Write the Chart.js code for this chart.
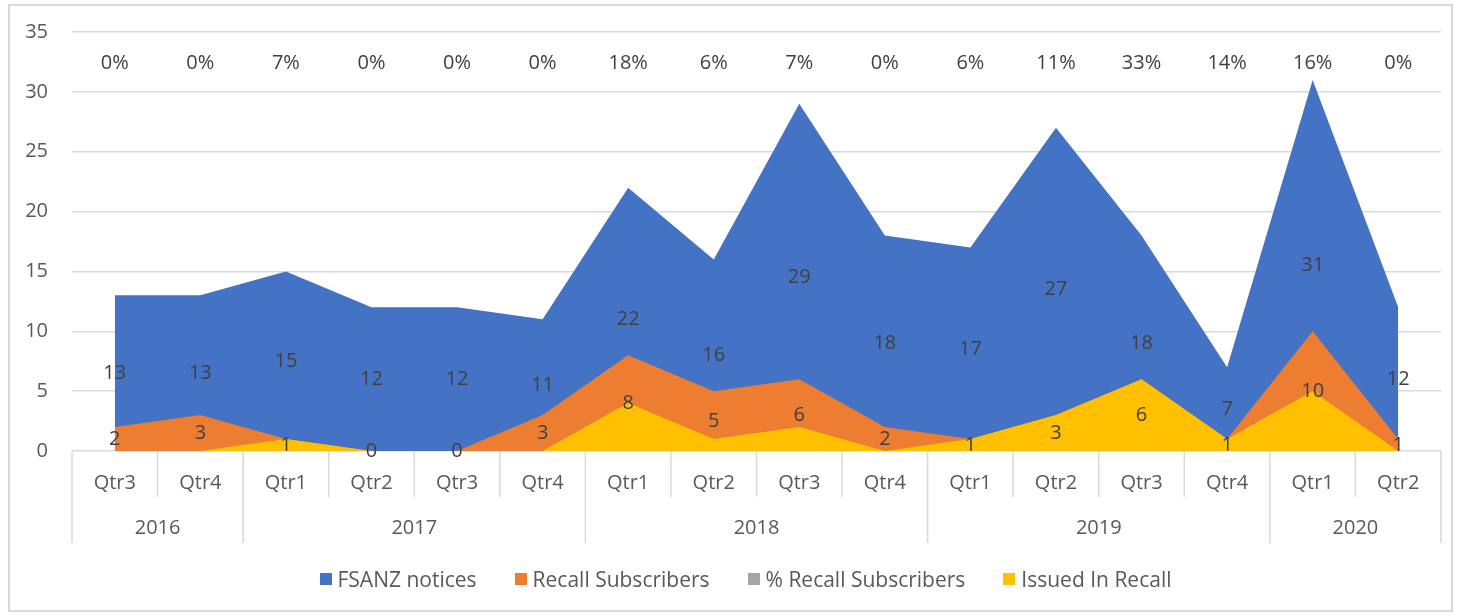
<!DOCTYPE html>
<html>
<head>
<meta charset="utf-8">
<script src="https://cdn.jsdelivr.net/npm/chart.js@4.4.1/dist/chart.umd.min.js"></script>
<style>
  html, body { margin: 0; padding: 0; background: #ffffff; }
  #wrap { position: relative; width: 1460px; height: 616px; overflow: hidden; }
  #c { position: absolute; left: 0; top: 0; }
  #frame { position: absolute; left: 8px; top: 4px; width: 1441px; height: 604px; border: 2px solid #d9d9d9; pointer-events: none; }
  #legend { position: absolute; left: 0; top: 565px; width: 1491px; height: 28px; display: flex; justify-content: center; align-items: center; gap: 38px;
            font-family: "Open Sans", sans-serif; font-size: 21px; color: #595959; }
  #legend .item { display: flex; align-items: center; white-space: nowrap; }
  #legend .box { width: 12px; height: 12px; margin-right: 6px; display: inline-block; }
</style>
</head>
<body>
<div id="wrap">
  <canvas id="c" width="1460" height="616"></canvas>
  <div id="frame"></div>
  <div id="legend"></div>
</div>
<script>
// ---- data ----
const quarters = ['Qtr3','Qtr4','Qtr1','Qtr2','Qtr3','Qtr4','Qtr1','Qtr2','Qtr3','Qtr4','Qtr1','Qtr2','Qtr3','Qtr4','Qtr1','Qtr2'];
const years = ['2016','2017','2018','2019','2020'];
const quartersPerYear = [2, 4, 4, 4, 2];
const fsanzNotices = [13, 13, 15, 12, 12, 11, 22, 16, 29, 18, 17, 27, 18, 7, 31, 12];
const recallSubscribers = [2, 3, 1, 0, 0, 3, 8, 5, 6, 2, 1, 3, 6, 1, 10, 1];
const pctRecallSubscribers = [0, 0, 0.07, 0, 0, 0, 0.18, 0.06, 0.07, 0, 0.06, 0.11, 0.33, 0.14, 0.16, 0];
const issuedInRecall = [0, 0, 1, 0, 0, 0, 4, 1, 2, 0, 1, 3, 6, 1, 5, 0];
const yTicks = [0, 5, 10, 15, 20, 25, 30, 35];
const seriesNames = ['FSANZ notices', 'Recall Subscribers', '% Recall Subscribers', 'Issued In Recall'];

// ---- styles ----
const COLORS = ['#4472C4', '#ED7D31', '#A5A5A5', '#FFC000'];
const FONT_FAMILY = '"Open Sans", sans-serif';
const FONT_SIZE = 20;
const GRID = '#d9d9d9';
const PCT_LABEL_LEVEL = 32.4;

const seriesData = [fsanzNotices, recallSubscribers, pctRecallSubscribers, issuedInRecall];

const datasets = seriesData.map((d, i) => ({
  label: seriesNames[i],
  data: d,
  backgroundColor: COLORS[i],
  borderColor: COLORS[i],
  borderWidth: 0,
  pointRadius: 0,
  tension: 0,
  fill: 'origin',
  order: seriesData.length - 1 - i
}));

const dataLabelPlugin = {
  id: 'dataLabels',
  afterDatasetsDraw(chart) {
    const xs = chart.scales.x, ys = chart.scales.y, ctx = chart.ctx;
    ctx.save();
    ctx.font = FONT_SIZE + 'px ' + FONT_FAMILY;
    ctx.fillStyle = '#404040';
    ctx.textAlign = 'center';
    ctx.textBaseline = 'middle';
    [fsanzNotices, recallSubscribers].forEach(arr => {
      arr.forEach((v, i) => ctx.fillText(String(v), xs.getPixelForValue(i), ys.getPixelForValue(v / 2)));
    });
    pctRecallSubscribers.forEach((v, i) => {
      ctx.fillText(Math.round(v * 100) + '%', xs.getPixelForValue(i), ys.getPixelForValue(PCT_LABEL_LEVEL));
    });
    ctx.restore();
  }
};

const multiAxisPlugin = {
  id: 'multiAxis',
  afterDraw(chart) {
    const xs = chart.scales.x, ctx = chart.ctx;
    const n = quarters.length;
    const c0 = xs.getPixelForValue(0), c1 = xs.getPixelForValue(1);
    const step = c1 - c0;
    const bound = k => c0 - step / 2 + k * step;
    const top = xs.top;
    const rowH = xs.height / 2;
    ctx.save();
    ctx.strokeStyle = GRID;
    ctx.lineWidth = 1.5;
    ctx.beginPath();
    for (let k = 0; k <= n; k++) {
      ctx.moveTo(bound(k), top);
      ctx.lineTo(bound(k), top + rowH);
    }
    let k = 0;
    ctx.moveTo(bound(0), top);
    ctx.lineTo(bound(0), top + 2 * rowH);
    quartersPerYear.forEach(cnt => {
      k += cnt;
      ctx.moveTo(bound(k), top);
      ctx.lineTo(bound(k), top + 2 * rowH);
    });
    ctx.stroke();

    ctx.font = FONT_SIZE + 'px ' + FONT_FAMILY;
    ctx.fillStyle = '#595959';
    ctx.textAlign = 'center';
    ctx.textBaseline = 'middle';
    quarters.forEach((q, i) => ctx.fillText(q, xs.getPixelForValue(i), top + rowH * 0.7));
    k = 0;
    years.forEach((y, j) => {
      const cx = (bound(k) + bound(k + quartersPerYear[j])) / 2;
      ctx.fillText(y, cx, top + rowH * 1.68);
      k += quartersPerYear[j];
    });
    ctx.restore();
  }
};

new Chart(document.getElementById('c'), {
  type: 'line',
  data: { labels: quarters, datasets },
  options: {
    responsive: false,
    animation: false,
    devicePixelRatio: 1,
    layout: { padding: { left: 0, right: 19, top: 32, bottom: 73 } },
    plugins: { legend: { display: false }, tooltip: { enabled: false } },
    scales: {
      x: {
        type: 'category',
        offset: true,
        grid: { display: false },
        border: { display: false },
        ticks: { display: false },
        afterFit: s => { s.height = 92; s.paddingLeft = 0; s.paddingRight = 0; }
      },
      y: {
        min: yTicks[0],
        max: yTicks[yTicks.length - 1],
        afterBuildTicks: s => { s.ticks = yTicks.map(v => ({ value: v })); },
        afterFit: s => { s.width = 72; s.paddingTop = 0; s.paddingBottom = 0; },
        grid: { color: GRID, lineWidth: 1.5, drawTicks: false },
        border: { display: false },
        ticks: { padding: 24, color: '#595959', font: { family: FONT_FAMILY, size: FONT_SIZE } }
      }
    }
  },
  plugins: [dataLabelPlugin, multiAxisPlugin]
});

// HTML legend
const legend = document.getElementById('legend');
seriesNames.forEach((name, i) => {
  const item = document.createElement('span');
  item.className = 'item';
  const box = document.createElement('span');
  box.className = 'box';
  box.style.background = COLORS[i];
  item.appendChild(box);
  item.appendChild(document.createTextNode(name));
  legend.appendChild(item);
});
</script>
</body>
</html>
